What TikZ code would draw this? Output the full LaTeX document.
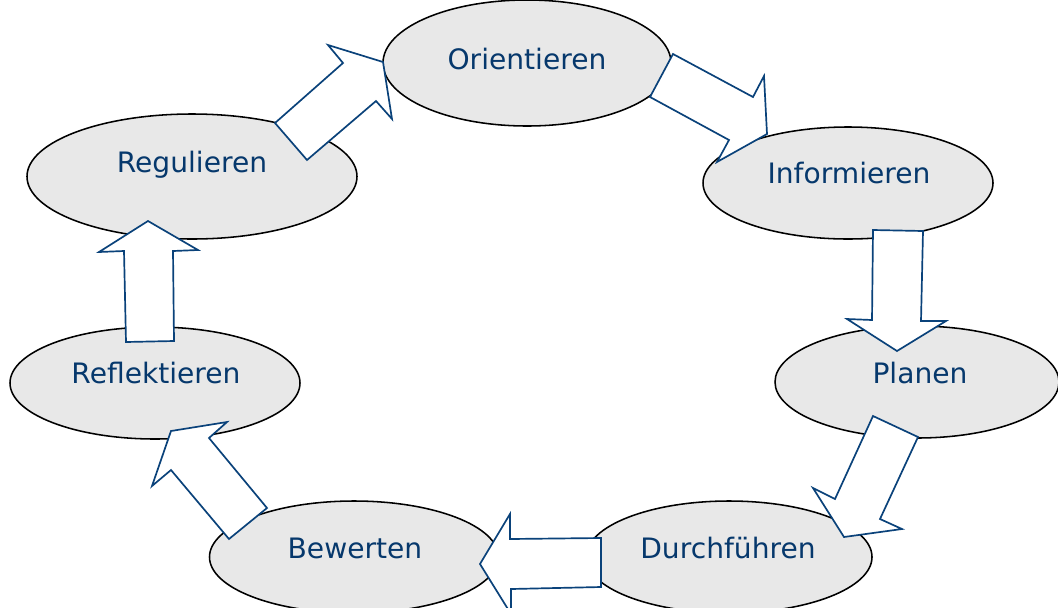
\documentclass[tikz,border=0pt]{standalone}
\usepackage{fontspec}
\setmainfont{DejaVu Sans}
\definecolor{stageblue}{RGB}{6,56,108}
\definecolor{arrowblue}{RGB}{10,66,122}
\definecolor{stagegray}{RGB}{232,232,232}
\tikzset{
  stage/.style 2 args={ellipse,draw=black,fill=stagegray,line width=1.1pt,inner sep=0pt,
    minimum width=#1*0.025cm,minimum height=#2*0.025cm},
  stagetext/.style={anchor=base,text=stageblue,font=\fontsize{20}{24}\selectfont},
  blockarrow/.style={draw=arrowblue,fill=white,line width=1.2pt,line join=miter},
}
\usetikzlibrary{shapes.geometric}
\begin{document}
\begin{tikzpicture}[x=0.025cm,y=-0.025cm]
\clip (0,0) rectangle (1058,607);
\fill[white] (0,0) rectangle (1058,607);
% stages of the cycle
\node[stage={288}{126}] (orient) at (527,63) {};
\node[stage={290}{112}] (inform) at (848,183) {};
\node[stage={284}{112}] (plan) at (917,382) {};
\node[stage={286}{112}] (durch) at (729,557) {};
\node[stage={289}{112}] (bewert) at (354,557) {};
\node[stage={290}{112}] (reflekt) at (155,383) {};
\node[stage={330}{125}] (regul) at (192,176.5) {};
\node[stagetext] (orient-txt) at (527,69) {Orientieren};
\node[stagetext] (inform-txt) at (849,183) {Informieren};
\node[stagetext] (plan-txt) at (920,383) {Planen};
\node[stagetext] (durch-txt) at (728,558) {Durchführen};
\node[stagetext] (bewert-txt) at (355,558) {Bewerten};
\node[stagetext] (reflekt-txt) at (156,383) {Reflektieren};
\node[stagetext] (regul-txt) at (192,172) {Regulieren};
% block arrows between the stages
\draw[blockarrow] (275,123) -- (343,63) -- (328,45) -- (383,62) -- (392,119) -- (376,101) -- (307,160) -- cycle;
\draw[blockarrow] (673,54) -- (753,97) -- (764,76) -- (767,134) -- (717,162) -- (729,140) -- (650,97) -- cycle;
\draw[blockarrow] (873,230) -- (923,231) -- (921,321) -- (946,321) -- (897,351) -- (847,319) -- (872,320) -- cycle;
\draw[blockarrow] (873,416) -- (918,437) -- (880,519) -- (902,529) -- (844,537) -- (813,488) -- (835,499) -- cycle;
\draw[blockarrow] (601,538) -- (601,587) -- (511,589) -- (511,614) -- (480,564) -- (510,514) -- (510,539) -- cycle;
\draw[blockarrow] (229,539) -- (267,508) -- (209,438) -- (227,422) -- (171,431) -- (152,486) -- (171,470) -- cycle;
\draw[blockarrow] (126,342) -- (174,341) -- (173,251) -- (198,250) -- (148,221) -- (99,252) -- (124,251) -- cycle;
\end{tikzpicture}
\end{document}
